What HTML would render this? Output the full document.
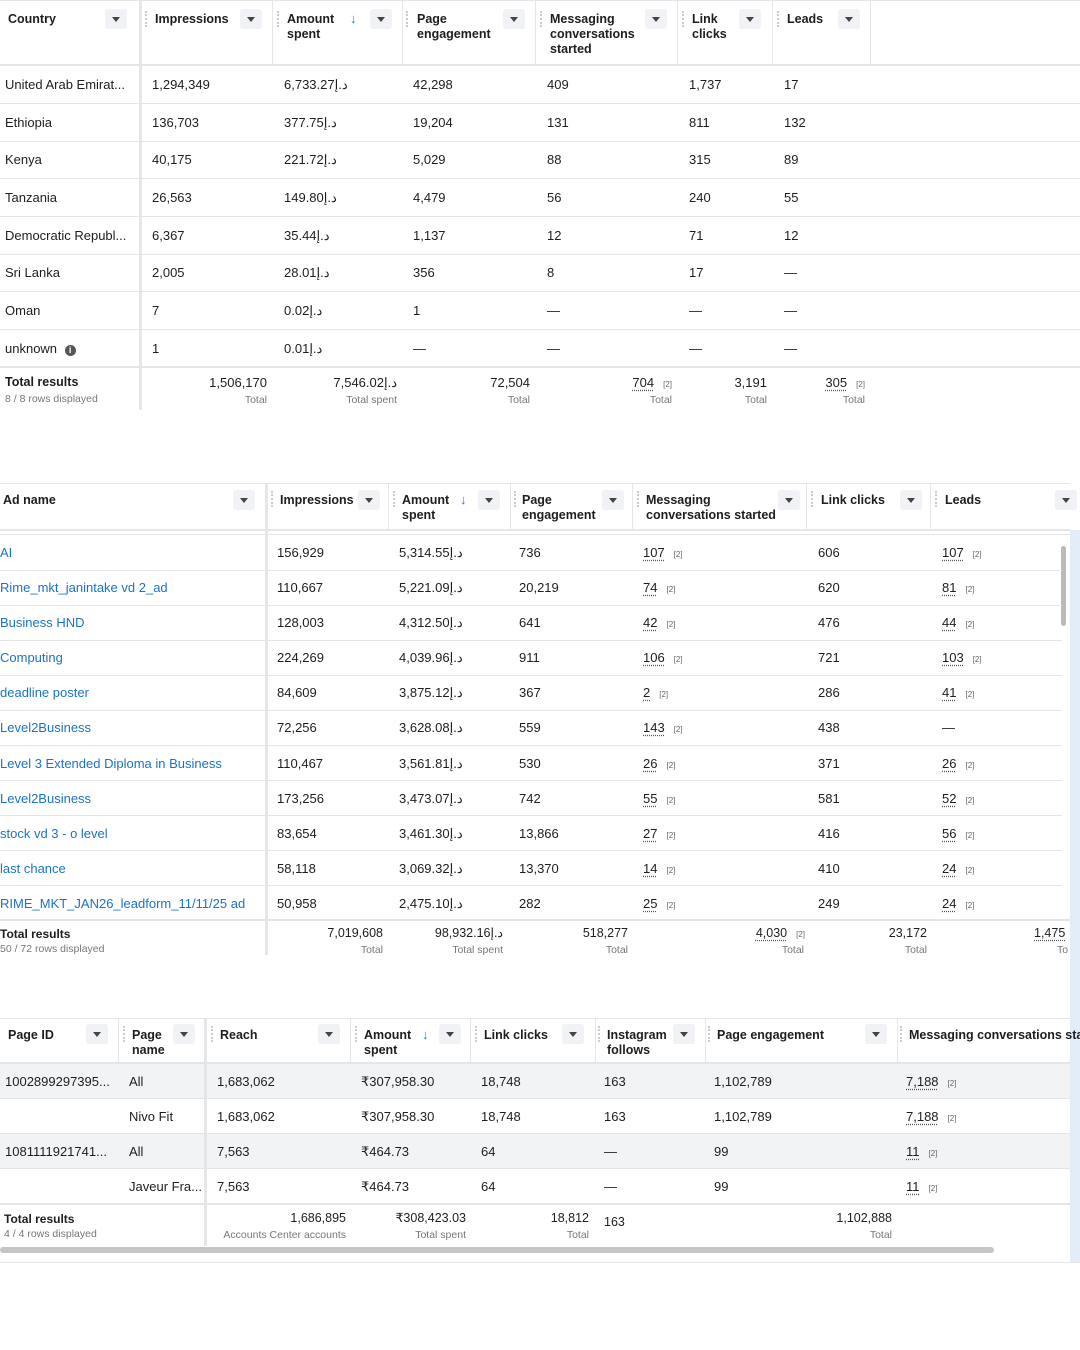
<!DOCTYPE html>
<html><head><meta charset="utf-8"><style>
body{margin:0;width:1080px;height:1350px;position:relative;background:#fff;font-family:"Liberation Sans",sans-serif;color:#1c1e21;overflow:hidden}
.t{position:absolute;white-space:nowrap;font-size:13px;line-height:17px}
.h{position:absolute;font-size:12.5px;font-weight:bold;line-height:15px;color:#1c1e21;white-space:nowrap}
.s{position:absolute;white-space:nowrap;font-size:10.5px;color:#777;line-height:13px}
.r{text-align:right}
.l{position:absolute;background:#e4e6e8}
.dd{position:absolute;width:22px;height:20px;background:#f0f2f5;border-radius:3px}
.dd:after{content:"";position:absolute;left:7px;top:8px;border-left:4px solid transparent;border-right:4px solid transparent;border-top:5px solid #444}
.dot{position:absolute;width:0;border-left:2px dotted #ccc;height:16px}
.ar{position:absolute;color:#1877f2;font-size:13px;font-weight:bold}
.a{color:#1a73c9}
u{text-decoration:underline dotted #555;text-underline-offset:3px}
small{font-size:8px;color:#666;margin-left:9px}
.g{position:absolute;background:#f2f3f4}
</style></head><body>

<!-- TABLE 1 -->
<div class="l" style="left:0;top:0;width:1080px;height:1px"></div>
<div class="l" style="left:0;top:64px;width:1080px;height:2px"></div>
<div class="l" style="left:139px;top:0;width:3px;height:410px"></div>
<div class="l" style="left:272px;top:0;width:1px;height:64px"></div>
<div class="l" style="left:402px;top:0;width:1px;height:64px"></div>
<div class="l" style="left:535px;top:0;width:1px;height:64px"></div>
<div class="l" style="left:677px;top:0;width:1px;height:64px"></div>
<div class="l" style="left:772px;top:0;width:1px;height:64px"></div>
<div class="l" style="left:870px;top:0;width:1px;height:64px"></div>
<div class="h" style="left:8px;top:12px">Country</div><div class="dd" style="left:105px;top:9px"></div>
<div class="dot" style="left:145px;top:11px"></div><div class="h" style="left:155px;top:12px">Impressions</div><div class="dd" style="left:240px;top:9px"></div>
<div class="dot" style="left:277px;top:11px"></div><div class="h" style="left:287px;top:12px">Amount<br>spent</div><div class="ar" style="left:350px;top:11px">↓</div><div class="dd" style="left:370px;top:9px"></div>
<div class="dot" style="left:406px;top:11px"></div><div class="h" style="left:417px;top:12px">Page<br>engagement</div><div class="dd" style="left:503px;top:9px"></div>
<div class="dot" style="left:540px;top:11px"></div><div class="h" style="left:550px;top:12px">Messaging<br>conversations<br>started</div><div class="dd" style="left:645px;top:9px"></div>
<div class="dot" style="left:682px;top:11px"></div><div class="h" style="left:692px;top:12px">Link<br>clicks</div><div class="dd" style="left:739px;top:9px"></div>
<div class="dot" style="left:777px;top:11px"></div><div class="h" style="left:787px;top:12px">Leads</div><div class="dd" style="left:838px;top:9px"></div>

<div class="l" style="left:0;top:103px;width:1080px;height:1px"></div>
<div class="l" style="left:0;top:141px;width:1080px;height:1px"></div>
<div class="l" style="left:0;top:178px;width:1080px;height:1px"></div>
<div class="l" style="left:0;top:216px;width:1080px;height:1px"></div>
<div class="l" style="left:0;top:254px;width:1080px;height:1px"></div>
<div class="l" style="left:0;top:291px;width:1080px;height:1px"></div>
<div class="l" style="left:0;top:329px;width:1080px;height:1px"></div>
<div class="l" style="left:0;top:366px;width:1080px;height:2px"></div>

<div class="t" style="left:5px;top:76px">United Arab Emirat...</div><div class="t" style="left:152px;top:76px">1,294,349</div><div class="t" style="left:284px;top:76px">6,733.27د.إ</div><div class="t" style="left:413px;top:76px">42,298</div><div class="t" style="left:547px;top:76px">409</div><div class="t" style="left:689px;top:76px">1,737</div><div class="t" style="left:784px;top:76px">17</div>
<div class="t" style="left:5px;top:114px">Ethiopia</div><div class="t" style="left:152px;top:114px">136,703</div><div class="t" style="left:284px;top:114px">377.75د.إ</div><div class="t" style="left:413px;top:114px">19,204</div><div class="t" style="left:547px;top:114px">131</div><div class="t" style="left:689px;top:114px">811</div><div class="t" style="left:784px;top:114px">132</div>
<div class="t" style="left:5px;top:151px">Kenya</div><div class="t" style="left:152px;top:151px">40,175</div><div class="t" style="left:284px;top:151px">221.72د.إ</div><div class="t" style="left:413px;top:151px">5,029</div><div class="t" style="left:547px;top:151px">88</div><div class="t" style="left:689px;top:151px">315</div><div class="t" style="left:784px;top:151px">89</div>
<div class="t" style="left:5px;top:189px">Tanzania</div><div class="t" style="left:152px;top:189px">26,563</div><div class="t" style="left:284px;top:189px">149.80د.إ</div><div class="t" style="left:413px;top:189px">4,479</div><div class="t" style="left:547px;top:189px">56</div><div class="t" style="left:689px;top:189px">240</div><div class="t" style="left:784px;top:189px">55</div>
<div class="t" style="left:5px;top:227px">Democratic Republ...</div><div class="t" style="left:152px;top:227px">6,367</div><div class="t" style="left:284px;top:227px">35.44د.إ</div><div class="t" style="left:413px;top:227px">1,137</div><div class="t" style="left:547px;top:227px">12</div><div class="t" style="left:689px;top:227px">71</div><div class="t" style="left:784px;top:227px">12</div>
<div class="t" style="left:5px;top:264px">Sri Lanka</div><div class="t" style="left:152px;top:264px">2,005</div><div class="t" style="left:284px;top:264px">28.01د.إ</div><div class="t" style="left:413px;top:264px">356</div><div class="t" style="left:547px;top:264px">8</div><div class="t" style="left:689px;top:264px">17</div><div class="t" style="left:784px;top:264px">—</div>
<div class="t" style="left:5px;top:302px">Oman</div><div class="t" style="left:152px;top:302px">7</div><div class="t" style="left:284px;top:302px">0.02د.إ</div><div class="t" style="left:413px;top:302px">1</div><div class="t" style="left:547px;top:302px">—</div><div class="t" style="left:689px;top:302px">—</div><div class="t" style="left:784px;top:302px">—</div>
<div class="t" style="left:5px;top:340px">unknown <span style="display:inline-block;width:11px;height:11px;border-radius:50%;background:#555;color:#fff;font-size:9px;text-align:center;line-height:11px;font-weight:bold;margin-left:4px">i</span></div><div class="t" style="left:152px;top:340px">1</div><div class="t" style="left:284px;top:340px">0.01د.إ</div><div class="t" style="left:413px;top:340px">—</div><div class="t" style="left:547px;top:340px">—</div><div class="t" style="left:689px;top:340px">—</div><div class="t" style="left:784px;top:340px">—</div>

<div class="h" style="left:5px;top:375px">Total results</div><div class="s" style="left:5px;top:393px">8 / 8 rows displayed</div>
<div class="t r" style="right:813px;top:374px">1,506,170</div><div class="s r" style="right:813px;top:394px">Total</div>
<div class="t r" style="right:683px;top:374px">7,546.02د.إ</div><div class="s r" style="right:683px;top:394px">Total spent</div>
<div class="t r" style="right:550px;top:374px">72,504</div><div class="s r" style="right:550px;top:394px">Total</div>
<div class="t r" style="right:408px;top:374px"><u>704</u><small>[2]</small></div><div class="s r" style="right:408px;top:394px">Total</div>
<div class="t r" style="right:313px;top:374px">3,191</div><div class="s r" style="right:313px;top:394px">Total</div>
<div class="t r" style="right:215px;top:374px"><u>305</u><small>[2]</small></div><div class="s r" style="right:215px;top:394px">Total</div>

<!-- TABLE 2 -->
<div style="position:absolute;left:1070px;top:530px;width:10px;height:732px;background:#e3edf7"></div>
<div class="l" style="left:0;top:483px;width:1070px;height:1px"></div>
<div class="l" style="left:0;top:529px;width:1070px;height:2px"></div>
<div class="l" style="left:0;top:534px;width:1070px;height:1px"></div>
<div class="l" style="left:265px;top:483px;width:3px;height:472px"></div>
<div class="l" style="left:388px;top:483px;width:1px;height:46px"></div>
<div class="l" style="left:510px;top:483px;width:1px;height:46px"></div>
<div class="l" style="left:632px;top:483px;width:1px;height:46px"></div>
<div class="l" style="left:806px;top:483px;width:1px;height:46px"></div>
<div class="l" style="left:930px;top:483px;width:1px;height:46px"></div>
<div class="h" style="left:3px;top:493px">Ad name</div><div class="dd" style="left:233px;top:490px"></div>
<div class="dot" style="left:271px;top:491px"></div><div class="h" style="left:280px;top:493px">Impressions</div><div class="dd" style="left:358px;top:490px"></div>
<div class="dot" style="left:393px;top:491px"></div><div class="h" style="left:402px;top:493px">Amount<br>spent</div><div class="ar" style="left:460px;top:492px">↓</div><div class="dd" style="left:478px;top:490px"></div>
<div class="dot" style="left:514px;top:491px"></div><div class="h" style="left:522px;top:493px">Page<br>engagement</div><div class="dd" style="left:602px;top:490px"></div>
<div class="dot" style="left:637px;top:491px"></div><div class="h" style="left:646px;top:493px">Messaging<br>conversations started</div><div class="dd" style="left:778px;top:490px"></div>
<div class="dot" style="left:811px;top:491px"></div><div class="h" style="left:821px;top:493px">Link clicks</div><div class="dd" style="left:900px;top:490px"></div>
<div class="dot" style="left:935px;top:491px"></div><div class="h" style="left:945px;top:493px">Leads</div><div class="dd" style="left:1055px;top:490px"></div>
<div style="position:absolute;left:1061px;top:546px;width:5px;height:80px;background:#bbb;border-radius:3px"></div>

<div class="l" style="left:0;top:570px;width:1062px;height:1px"></div>
<div class="l" style="left:0;top:605px;width:1062px;height:1px"></div>
<div class="l" style="left:0;top:640px;width:1062px;height:1px"></div>
<div class="l" style="left:0;top:675px;width:1062px;height:1px"></div>
<div class="l" style="left:0;top:710px;width:1062px;height:1px"></div>
<div class="l" style="left:0;top:745px;width:1062px;height:1px"></div>
<div class="l" style="left:0;top:780px;width:1062px;height:1px"></div>
<div class="l" style="left:0;top:815px;width:1062px;height:1px"></div>
<div class="l" style="left:0;top:850px;width:1062px;height:1px"></div>
<div class="l" style="left:0;top:885px;width:1062px;height:1px"></div>
<div class="l" style="left:0;top:919px;width:1070px;height:2px"></div>

<div class="t a" style="left:0;top:544px">AI</div><div class="t" style="left:277px;top:544px">156,929</div><div class="t" style="left:399px;top:544px">5,314.55د.إ</div><div class="t" style="left:519px;top:544px">736</div><div class="t" style="left:643px;top:544px"><u>107</u><small>[2]</small></div><div class="t" style="left:818px;top:544px">606</div><div class="t" style="left:942px;top:544px"><u>107</u><small>[2]</small></div>
<div class="t a" style="left:0;top:579px">Rime_mkt_janintake vd 2_ad</div><div class="t" style="left:277px;top:579px">110,667</div><div class="t" style="left:399px;top:579px">5,221.09د.إ</div><div class="t" style="left:519px;top:579px">20,219</div><div class="t" style="left:643px;top:579px"><u>74</u><small>[2]</small></div><div class="t" style="left:818px;top:579px">620</div><div class="t" style="left:942px;top:579px"><u>81</u><small>[2]</small></div>
<div class="t a" style="left:0;top:614px">Business HND</div><div class="t" style="left:277px;top:614px">128,003</div><div class="t" style="left:399px;top:614px">4,312.50د.إ</div><div class="t" style="left:519px;top:614px">641</div><div class="t" style="left:643px;top:614px"><u>42</u><small>[2]</small></div><div class="t" style="left:818px;top:614px">476</div><div class="t" style="left:942px;top:614px"><u>44</u><small>[2]</small></div>
<div class="t a" style="left:0;top:649px">Computing</div><div class="t" style="left:277px;top:649px">224,269</div><div class="t" style="left:399px;top:649px">4,039.96د.إ</div><div class="t" style="left:519px;top:649px">911</div><div class="t" style="left:643px;top:649px"><u>106</u><small>[2]</small></div><div class="t" style="left:818px;top:649px">721</div><div class="t" style="left:942px;top:649px"><u>103</u><small>[2]</small></div>
<div class="t a" style="left:0;top:684px">deadline poster</div><div class="t" style="left:277px;top:684px">84,609</div><div class="t" style="left:399px;top:684px">3,875.12د.إ</div><div class="t" style="left:519px;top:684px">367</div><div class="t" style="left:643px;top:684px"><u>2</u><small>[2]</small></div><div class="t" style="left:818px;top:684px">286</div><div class="t" style="left:942px;top:684px"><u>41</u><small>[2]</small></div>
<div class="t a" style="left:0;top:719px">Level2Business</div><div class="t" style="left:277px;top:719px">72,256</div><div class="t" style="left:399px;top:719px">3,628.08د.إ</div><div class="t" style="left:519px;top:719px">559</div><div class="t" style="left:643px;top:719px"><u>143</u><small>[2]</small></div><div class="t" style="left:818px;top:719px">438</div><div class="t" style="left:942px;top:719px">—</div>
<div class="t a" style="left:0;top:755px">Level 3 Extended Diploma in Business</div><div class="t" style="left:277px;top:755px">110,467</div><div class="t" style="left:399px;top:755px">3,561.81د.إ</div><div class="t" style="left:519px;top:755px">530</div><div class="t" style="left:643px;top:755px"><u>26</u><small>[2]</small></div><div class="t" style="left:818px;top:755px">371</div><div class="t" style="left:942px;top:755px"><u>26</u><small>[2]</small></div>
<div class="t a" style="left:0;top:790px">Level2Business</div><div class="t" style="left:277px;top:790px">173,256</div><div class="t" style="left:399px;top:790px">3,473.07د.إ</div><div class="t" style="left:519px;top:790px">742</div><div class="t" style="left:643px;top:790px"><u>55</u><small>[2]</small></div><div class="t" style="left:818px;top:790px">581</div><div class="t" style="left:942px;top:790px"><u>52</u><small>[2]</small></div>
<div class="t a" style="left:0;top:825px">stock vd 3 - o level</div><div class="t" style="left:277px;top:825px">83,654</div><div class="t" style="left:399px;top:825px">3,461.30د.إ</div><div class="t" style="left:519px;top:825px">13,866</div><div class="t" style="left:643px;top:825px"><u>27</u><small>[2]</small></div><div class="t" style="left:818px;top:825px">416</div><div class="t" style="left:942px;top:825px"><u>56</u><small>[2]</small></div>
<div class="t a" style="left:0;top:860px">last chance</div><div class="t" style="left:277px;top:860px">58,118</div><div class="t" style="left:399px;top:860px">3,069.32د.إ</div><div class="t" style="left:519px;top:860px">13,370</div><div class="t" style="left:643px;top:860px"><u>14</u><small>[2]</small></div><div class="t" style="left:818px;top:860px">410</div><div class="t" style="left:942px;top:860px"><u>24</u><small>[2]</small></div>
<div class="t a" style="left:0;top:895px">RIME_MKT_JAN26_leadform_11/11/25 ad</div><div class="t" style="left:277px;top:895px">50,958</div><div class="t" style="left:399px;top:895px">2,475.10د.إ</div><div class="t" style="left:519px;top:895px">282</div><div class="t" style="left:643px;top:895px"><u>25</u><small>[2]</small></div><div class="t" style="left:818px;top:895px">249</div><div class="t" style="left:942px;top:895px"><u>24</u><small>[2]</small></div>

<div class="h" style="left:0;top:927px;font-size:12px">Total results</div><div class="s" style="left:0;top:943px">50 / 72 rows displayed</div>
<div class="t r" style="right:697px;top:925px;font-size:12.5px">7,019,608</div><div class="s r" style="right:697px;top:944px">Total</div>
<div class="t r" style="right:577px;top:925px;font-size:12.5px">98,932.16د.إ</div><div class="s r" style="right:577px;top:944px">Total spent</div>
<div class="t r" style="right:452px;top:925px;font-size:12.5px">518,277</div><div class="s r" style="right:452px;top:944px">Total</div>
<div class="t r" style="right:275px;top:925px;font-size:12.5px"><u>4,030</u><small>[2]</small></div><div class="s r" style="right:276px;top:944px">Total</div>
<div class="t r" style="right:153px;top:925px;font-size:12.5px">23,172</div><div class="s r" style="right:153px;top:944px">Total</div>
<div class="t" style="left:1034px;top:925px;font-size:12.5px"><u>1,475</u></div><div class="s" style="left:1057px;top:944px">To</div>

<!-- TABLE 3 -->
<div class="g" style="left:0;top:1064px;width:1070px;height:34px"></div>
<div class="g" style="left:0;top:1134px;width:1070px;height:34px"></div>
<div class="l" style="left:0;top:1018px;width:1070px;height:1px"></div>
<div class="l" style="left:0;top:1062px;width:1070px;height:2px"></div>
<div class="l" style="left:118px;top:1018px;width:1px;height:44px"></div>
<div class="l" style="left:204px;top:1018px;width:3px;height:228px"></div>
<div class="l" style="left:350px;top:1018px;width:1px;height:44px"></div>
<div class="l" style="left:470px;top:1018px;width:1px;height:44px"></div>
<div class="l" style="left:595px;top:1018px;width:1px;height:44px"></div>
<div class="l" style="left:705px;top:1018px;width:1px;height:44px"></div>
<div class="l" style="left:897px;top:1018px;width:1px;height:44px"></div>
<div class="h" style="left:8px;top:1028px">Page ID</div><div class="dd" style="left:86px;top:1024px"></div>
<div class="dot" style="left:123px;top:1026px"></div><div class="h" style="left:132px;top:1028px">Page<br>name</div><div class="dd" style="left:173px;top:1024px"></div>
<div class="dot" style="left:211px;top:1026px"></div><div class="h" style="left:220px;top:1028px">Reach</div><div class="dd" style="left:318px;top:1024px"></div>
<div class="dot" style="left:355px;top:1026px"></div><div class="h" style="left:364px;top:1028px">Amount<br>spent</div><div class="ar" style="left:422px;top:1027px">↓</div><div class="dd" style="left:439px;top:1024px"></div>
<div class="dot" style="left:475px;top:1026px"></div><div class="h" style="left:484px;top:1028px">Link clicks</div><div class="dd" style="left:562px;top:1024px"></div>
<div class="dot" style="left:598px;top:1026px"></div><div class="h" style="left:607px;top:1028px">Instagram<br>follows</div><div class="dd" style="left:673px;top:1024px"></div>
<div class="dot" style="left:708px;top:1026px"></div><div class="h" style="left:717px;top:1028px">Page engagement</div><div class="dd" style="left:865px;top:1024px"></div>
<div class="dot" style="left:900px;top:1026px"></div><div class="h" style="left:909px;top:1028px">Messaging conversations star</div>

<div class="l" style="left:0;top:1098px;width:1070px;height:1px"></div>
<div class="l" style="left:0;top:1133px;width:1070px;height:1px"></div>
<div class="l" style="left:0;top:1168px;width:1070px;height:1px"></div>
<div class="l" style="left:0;top:1203px;width:1070px;height:2px"></div>

<div class="t" style="left:5px;top:1073px">1002899297395...</div><div class="t" style="left:129px;top:1073px">All</div><div class="t" style="left:217px;top:1073px">1,683,062</div><div class="t" style="left:361px;top:1073px">₹307,958.30</div><div class="t" style="left:481px;top:1073px">18,748</div><div class="t" style="left:604px;top:1073px">163</div><div class="t" style="left:714px;top:1073px">1,102,789</div><div class="t" style="left:906px;top:1073px"><u>7,188</u><small>[2]</small></div>
<div class="t" style="left:129px;top:1108px">Nivo Fit</div><div class="t" style="left:217px;top:1108px">1,683,062</div><div class="t" style="left:361px;top:1108px">₹307,958.30</div><div class="t" style="left:481px;top:1108px">18,748</div><div class="t" style="left:604px;top:1108px">163</div><div class="t" style="left:714px;top:1108px">1,102,789</div><div class="t" style="left:906px;top:1108px"><u>7,188</u><small>[2]</small></div>
<div class="t" style="left:5px;top:1143px">1081111921741...</div><div class="t" style="left:129px;top:1143px">All</div><div class="t" style="left:217px;top:1143px">7,563</div><div class="t" style="left:361px;top:1143px">₹464.73</div><div class="t" style="left:481px;top:1143px">64</div><div class="t" style="left:604px;top:1143px">—</div><div class="t" style="left:714px;top:1143px">99</div><div class="t" style="left:906px;top:1143px"><u>11</u><small>[2]</small></div>
<div class="t" style="left:129px;top:1178px">Javeur Fra...</div><div class="t" style="left:217px;top:1178px">7,563</div><div class="t" style="left:361px;top:1178px">₹464.73</div><div class="t" style="left:481px;top:1178px">64</div><div class="t" style="left:604px;top:1178px">—</div><div class="t" style="left:714px;top:1178px">99</div><div class="t" style="left:906px;top:1178px"><u>11</u><small>[2]</small></div>

<div class="h" style="left:4px;top:1212px;font-size:12px">Total results</div><div class="s" style="left:4px;top:1228px">4 / 4 rows displayed</div>
<div class="t r" style="right:734px;top:1210px;font-size:12.5px">1,686,895</div><div class="s r" style="right:734px;top:1229px">Accounts Center accounts</div>
<div class="t r" style="right:614px;top:1210px;font-size:12.5px">₹308,423.03</div><div class="s r" style="right:614px;top:1229px">Total spent</div>
<div class="t r" style="right:491px;top:1210px;font-size:12.5px">18,812</div><div class="s r" style="right:491px;top:1229px">Total</div>
<div class="t" style="left:604px;top:1214px;font-size:12.5px">163</div>
<div class="t r" style="right:188px;top:1210px;font-size:12.5px">1,102,888</div><div class="s r" style="right:188px;top:1229px">Total</div>
<div style="position:absolute;left:0;top:1247px;width:994px;height:6px;background:#c4c6c8;border-radius:3px"></div>
<div class="l" style="left:0;top:1262px;width:1080px;height:1px"></div>
</body></html>
